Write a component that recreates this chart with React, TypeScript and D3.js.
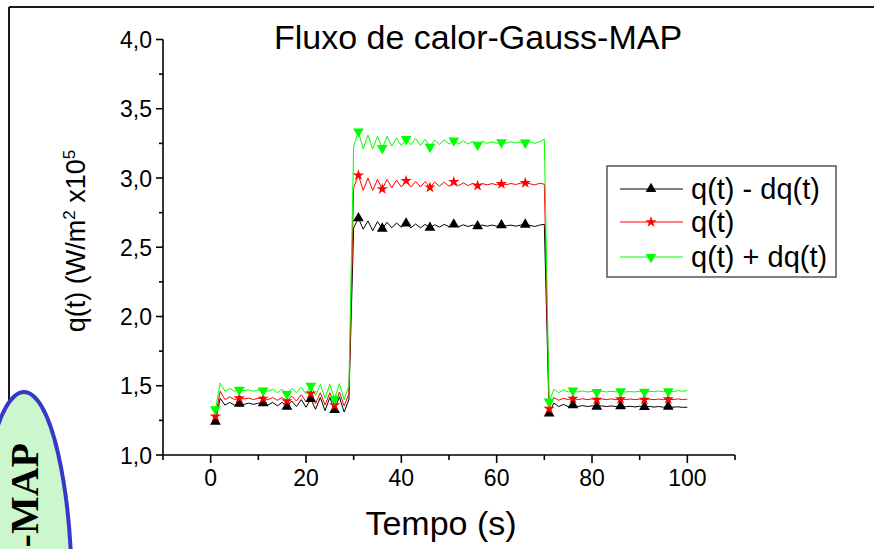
import React from "react";
import * as d3 from "d3";

const times: number[] = Array.from({ length: 100 }, (_, i) => i + 1);

const qMinus: number[] = [
  1.24, 1.41, 1.36, 1.38, 1.36, 1.37, 1.365, 1.375, 1.365, 1.375,
  1.375, 1.36, 1.38, 1.355, 1.38, 1.35, 1.39, 1.35, 1.40, 1.345,
  1.405, 1.33, 1.415, 1.32, 1.415, 1.325, 1.42, 1.31, 1.40, 2.64,
  2.71, 2.63, 2.69, 2.62, 2.685, 2.635, 2.68, 2.64, 2.675, 2.645,
  2.672, 2.64, 2.668, 2.64, 2.665, 2.642, 2.662, 2.645, 2.665, 2.648,
  2.665, 2.648, 2.662, 2.65, 2.66, 2.652, 2.66, 2.652, 2.66, 2.652,
  2.66, 2.654, 2.66, 2.652, 2.66, 2.664, 2.658, 2.65, 2.66, 2.665,
  1.30, 1.375, 1.35, 1.365, 1.35, 1.36, 1.35, 1.357, 1.35, 1.355,
  1.35, 1.355, 1.35, 1.354, 1.35, 1.353, 1.348, 1.352, 1.347, 1.352,
  1.347, 1.351, 1.346, 1.35, 1.345, 1.35, 1.345, 1.348, 1.344, 1.345,
];

const q: number[] = [
  1.28, 1.46, 1.40, 1.42, 1.40, 1.41, 1.405, 1.41, 1.40, 1.41,
  1.407, 1.40, 1.415, 1.395, 1.415, 1.39, 1.425, 1.39, 1.435, 1.385,
  1.445, 1.37, 1.45, 1.36, 1.45, 1.36, 1.455, 1.355, 1.44, 2.93,
  3.02, 2.91, 3.0, 2.91, 2.99, 2.92, 2.99, 2.93, 2.985, 2.935,
  2.98, 2.935, 2.975, 2.935, 2.975, 2.932, 2.97, 2.94, 2.97, 2.94,
  2.972, 2.945, 2.965, 2.945, 2.962, 2.945, 2.96, 2.95, 2.96, 2.95,
  2.957, 2.952, 2.96, 2.953, 2.962, 2.965, 2.958, 2.95, 2.962, 2.955,
  1.335, 1.415, 1.395, 1.41, 1.40, 1.408, 1.40, 1.406, 1.40, 1.405,
  1.40, 1.405, 1.40, 1.405, 1.40, 1.404, 1.40, 1.404, 1.40, 1.404,
  1.40, 1.403, 1.40, 1.404, 1.40, 1.403, 1.40, 1.405, 1.40, 1.403,
];

const qPlus: number[] = [
  1.33, 1.52, 1.46, 1.48, 1.46, 1.47, 1.465, 1.47, 1.46, 1.47,
  1.465, 1.46, 1.475, 1.45, 1.475, 1.44, 1.48, 1.45, 1.49, 1.44,
  1.50, 1.43, 1.51, 1.41, 1.51, 1.405, 1.515, 1.40, 1.50, 3.23,
  3.335, 3.21, 3.31, 3.21, 3.30, 3.215, 3.30, 3.23, 3.29, 3.235,
  3.28, 3.24, 3.285, 3.235, 3.28, 3.225, 3.275, 3.24, 3.275, 3.245,
  3.27, 3.245, 3.27, 3.245, 3.265, 3.24, 3.265, 3.25, 3.262, 3.25,
  3.258, 3.252, 3.262, 3.252, 3.26, 3.255, 3.262, 3.25, 3.262, 3.28,
  1.385, 1.475, 1.45, 1.47, 1.455, 1.465, 1.455, 1.462, 1.455, 1.46,
  1.455, 1.46, 1.455, 1.46, 1.456, 1.46, 1.455, 1.458, 1.455, 1.46,
  1.456, 1.46, 1.457, 1.462, 1.457, 1.46, 1.457, 1.465, 1.46, 1.465,
];

const markerTimes: number[] = [1, 6, 11, 16, 21, 26, 31, 36, 41, 46, 51, 56, 61, 66, 71, 76, 81, 86, 91, 96];

const xMajorTicks: number[] = [0, 20, 40, 60, 80, 100];
const xTickLabels: string[] = ["0", "20", "40", "60", "80", "100"];
const xMinorTicks: number[] = [-10, 10, 30, 50, 70, 90, 110];
const yMajorTicks: number[] = [1, 1.5, 2, 2.5, 3, 3.5, 4];
const yTickLabels: string[] = ["1,0", "1,5", "2,0", "2,5", "3,0", "3,5", "4,0"];
const yMinorTicks: number[] = [1.25, 1.75, 2.25, 2.75, 3.25, 3.75];

const seriesNames: string[] = ["q(t) - dq(t)", "q(t)", "q(t) + dq(t)"];
const seriesColors: string[] = ["#000000", "#ff0000", "#00ff00"];

const FONT = "Liberation Sans, Arial, sans-serif";

export default function App() {
  const x = d3.scaleLinear().domain([-10, 110]).range([163, 735]);
  const y = d3.scaleLinear().domain([1, 4]).range([455, 39.5]);

  const seriesData = [qMinus, q, qPlus];
  const line = d3
    .line<number>()
    .x((_, i) => x(times[i]))
    .y((d) => y(d));

  const triUp = d3.symbol().type(d3.symbolTriangle).size(50)()!;
  const star = d3.symbol().type(d3.symbolStar).size(40)()!;

  const marker = (k: number, cx: number, cy: number, key: string) => {
    const color = seriesColors[k];
    if (k === 0) return <path key={key} d={triUp} transform={`translate(${cx},${cy})`} fill={color} />;
    if (k === 1) return <path key={key} d={star} transform={`translate(${cx},${cy})`} fill={color} />;
    return <path key={key} d={triUp} transform={`translate(${cx},${cy}) rotate(180)`} fill={color} />;
  };

  const legendRows = [189, 222, 257];

  return (
    <svg
      width={874}
      height={549}
      style={{ position: "absolute", left: 0, top: 0, background: "#fff" }}
      fontFamily={FONT}
    >
      <rect x={0} y={0} width={874} height={549} fill="#fff" />
      {/* frame */}
      <line x1={9} y1={7} x2={874} y2={7} stroke="#1a1a1a" strokeWidth={2} />
      <line x1={9} y1={7} x2={9} y2={549} stroke="#1a1a1a" strokeWidth={2} />

      {/* title */}
      <text x={478} y={49} fontSize={34} textAnchor="middle" fill="#000">
        Fluxo de calor-Gauss-MAP
      </text>

      {/* series lines */}
      {seriesData.map((s, k) => (
        <path key={`l${k}`} d={line(s)!} fill="none" stroke={seriesColors[k]} strokeWidth={1} />
      ))}
      {/* markers */}
      {seriesData.map((s, k) =>
        markerTimes.map((t) => marker(k, x(t), y(s[t - 1]), `m${k}-${t}`))
      )}

      {/* axes */}
      <line x1={163} y1={y(4)} x2={163} y2={455} stroke="#000" strokeWidth={1.6} />
      <line x1={163} y1={455} x2={735} y2={455} stroke="#000" strokeWidth={1.6} />
      {yMajorTicks.map((v, i) => (
        <g key={`yt${i}`}>
          <line x1={156} x2={163} y1={y(v)} y2={y(v)} stroke="#000" strokeWidth={1.6} />
          <text x={152} y={y(v) + 8.5} fontSize={23} textAnchor="end">
            {yTickLabels[i]}
          </text>
        </g>
      ))}
      {yMinorTicks.map((v, i) => (
        <line key={`ym${i}`} x1={159} x2={163} y1={y(v)} y2={y(v)} stroke="#000" strokeWidth={1.6} />
      ))}
      {xMajorTicks.map((v, i) => (
        <g key={`xt${i}`}>
          <line x1={x(v)} x2={x(v)} y1={455} y2={463} stroke="#000" strokeWidth={1.6} />
          <text x={x(v)} y={486} fontSize={23} textAnchor="middle">
            {xTickLabels[i]}
          </text>
        </g>
      ))}
      {xMinorTicks.map((v, i) => (
        <line key={`xm${i}`} x1={x(v)} x2={x(v)} y1={455} y2={460} stroke="#000" strokeWidth={1.6} />
      ))}

      {/* axis titles */}
      <text x={441} y={535} fontSize={34} textAnchor="middle">
        Tempo (s)
      </text>
      <text transform="translate(85,241) rotate(-90)" fontSize={27} textAnchor="middle">
        q(t) (W/m<tspan dy={-10} fontSize={17}>2</tspan>
        <tspan dy={10}> x10</tspan>
        <tspan dy={-10} fontSize={17}>5</tspan>
      </text>

      {/* legend */}
      <rect x={607} y={166} width={229} height={111} fill="#fff" stroke="#555" strokeWidth={1.5} />
      {seriesNames.map((name, k) => (
        <g key={`lg${k}`}>
          <line x1={620} x2={683} y1={legendRows[k]} y2={legendRows[k]} stroke={seriesColors[k]} strokeWidth={1} />
          {marker(k, 651, legendRows[k], `lgm${k}`)}
          <text x={691} y={legendRows[k] + 10} fontSize={29}>
            {name}
          </text>
        </g>
      ))}

      {/* ellipse annotation */}
      <ellipse cx={24} cy={600} rx={48} ry={208} fill="#ccf7cc" stroke="#3838c8" strokeWidth={4} />
      <text
        transform="translate(38,443) rotate(-90)"
        fontSize={40}
        fontWeight="bold"
        fontFamily="Liberation Serif, Times New Roman, serif"
        textAnchor="end"
      >
        -MAP
      </text>
    </svg>
  );
}
